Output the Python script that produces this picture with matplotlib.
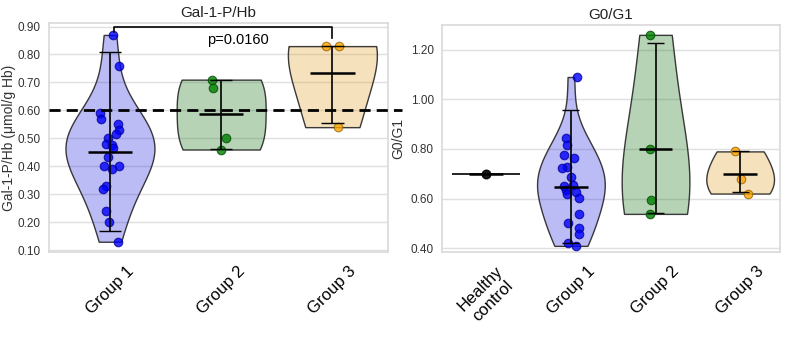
import colorsys
import numpy as np
import matplotlib
matplotlib.use("Agg")
import matplotlib.pyplot as plt
from matplotlib.colors import to_rgba, to_rgb

plt.rcParams['font.family'] = ['Liberation Sans', 'DejaVu Sans']

# ---- Gal-1-P/Hb panel ----
gal_groups = ["Group 1", "Group 2", "Group 3"]
gal_values = [
    [0.87, 0.76, 0.59, 0.57, 0.55, 0.53, 0.515, 0.50, 0.48, 0.476,
     0.464, 0.432, 0.40, 0.40, 0.39, 0.33, 0.32, 0.24, 0.20, 0.13],
    [0.71, 0.68, 0.50, 0.46],
    [0.83, 0.83, 0.54],
]
gal_jitter = [
    [0.03, 0.08, -0.09, -0.08, 0.07, 0.08, 0.05, -0.02, -0.04, 0.02,
     0.03, -0.02, -0.05, 0.08, 0.02, -0.04, -0.06, -0.04, -0.01, 0.07],
    [-0.08, -0.07, 0.04, 0.0],
    [-0.06, 0.06, 0.05],
]
gal_mean = [0.45, 0.5875, 0.733]
gal_lo = [0.17, 0.463, 0.555]
gal_hi = [0.81, 0.708, 0.83]
gal_cutoff = 0.60
p_text = "p=0.0160"

# ---- G0/G1 panel ----
g0_groups = ["Healthy\ncontrol", "Group 1", "Group 2", "Group 3"]
healthy_value = 0.70
g0_values = [
    [1.09, 0.843, 0.816, 0.776, 0.762, 0.729, 0.722, 0.688, 0.650, 0.655,
     0.634, 0.628, 0.617, 0.603, 0.537, 0.500, 0.482, 0.457, 0.421, 0.409],
    [1.26, 0.80, 0.592, 0.538],
    [0.79, 0.68, 0.62],
]
g0_jitter = [
    [0.07, -0.06, -0.05, -0.08, 0.04, -0.05, -0.10, 0.0, -0.08, 0.03,
     -0.06, 0.06, -0.05, 0.09, 0.10, -0.03, 0.10, 0.09, -0.03, 0.06],
    [-0.07, -0.06, -0.05, -0.07],
    [-0.06, 0.01, 0.09],
]
g0_mean = [0.645, 0.80, 0.697]
g0_lo = [0.42, 0.541, 0.625]
g0_hi = [0.955, 1.227, 0.79]

colors = ["blue", "green", "orange"]


def desat(c, prop=0.75):
    h, l, s = colorsys.rgb_to_hls(*to_rgb(c))
    return colorsys.hls_to_rgb(h, l, s * prop)


def darker(c, f=0.6):
    r, g, b, a = to_rgba(c)
    return (r * f, g * f, b * f, 1)


def style_axes(ax):
    ax.set_facecolor("white")
    for s in ax.spines.values():
        s.set_color("#d9d9d9")
        s.set_linewidth(1.2)
    ax.grid(axis="y", color="#e0e0e0", linewidth=1)
    ax.set_axisbelow(True)
    ax.tick_params(axis="both", length=0)
    ax.tick_params(axis="y", labelsize=8.5, colors="#333333", pad=6)
    ax.tick_params(axis="x", labelsize=12, pad=8)


def draw_groups(ax, pos, values, jitter, mean, lo, hi):
    parts = ax.violinplot(values, positions=pos, widths=0.8,
                          showextrema=False,
                          bw_method=lambda k: 1.15 * k.num_dp ** (-0.2))
    for body, c in zip(parts["bodies"], colors):
        body.set_facecolor(to_rgba(desat(c), 0.3))
        body.set_edgecolor((0.15, 0.15, 0.15, 0.9))
        body.set_linewidth(1.0)
        body.set_alpha(None)
    for i, p in enumerate(pos):
        xs = p + np.array(jitter[i])
        ax.scatter(xs, values[i], s=38, color=colors[i], alpha=0.8,
                   edgecolors=[darker(colors[i])], linewidths=0.8, zorder=3)
        ax.vlines(p, lo[i], hi[i], color="black", lw=1.2, zorder=4)
        ax.hlines([lo[i], hi[i]], p - 0.1, p + 0.1, color="black",
                  lw=1.0, zorder=4)
        ax.hlines(mean[i], p - 0.2, p + 0.2, color="black", lw=1.8, zorder=4)


fig = plt.figure(figsize=(7.87, 3.37), dpi=100)

# left panel
ax1 = fig.add_axes([0.062, 0.252, 0.431, 0.680])
style_axes(ax1)
draw_groups(ax1, [0, 1, 2], gal_values, gal_jitter, gal_mean, gal_lo, gal_hi)
ax1.plot([0, 1.04], [gal_cutoff, gal_cutoff], transform=ax1.get_yaxis_transform(),
         color="black", lw=2, ls=(0, (4, 2.2)), clip_on=False, zorder=5)
# significance bracket
ax1.plot([0.04, 0.04, 2.0, 2.0], [0.882, 0.90, 0.90, 0.858], color="black",
         lw=1.2, zorder=5)
ax1.text(1.15, 0.852, p_text, ha="center", va="center", fontsize=10.5)
ax1.set_xlim(-0.55, 2.5)
ax1.set_ylim(0.093, 0.913)
ax1.set_yticks(np.arange(0.1, 0.91, 0.1))
ax1.yaxis.set_major_formatter(matplotlib.ticker.FormatStrFormatter("%.2f"))
ax1.set_xticks([0, 1, 2])
ax1.set_xticklabels(gal_groups, rotation=45, ha="center")
ax1.set_ylabel("Gal-1-P/Hb (\u03bcmol/g Hb)", fontsize=10, color="#333333",
               labelpad=1)
ax1.set_title("Gal-1-P/Hb", fontsize=11, color="#222222", pad=4)

# right panel
ax2 = fig.add_axes([0.562, 0.252, 0.429, 0.674])
style_axes(ax2)
ax2.hlines(healthy_value, -0.4, 0.4, color="black", lw=1.2, zorder=2)
ax2.hlines(healthy_value, -0.2, 0.2, color="black", lw=1.8, zorder=4)
ax2.scatter([0], [healthy_value], s=38, color="black", alpha=0.9, zorder=3)
draw_groups(ax2, [1, 2, 3], g0_values, g0_jitter, g0_mean, g0_lo, g0_hi)
ax2.set_xlim(-0.52, 3.47)
ax2.set_ylim(0.384, 1.30)
ax2.set_yticks(np.arange(0.4, 1.21, 0.2))
ax2.yaxis.set_major_formatter(matplotlib.ticker.FormatStrFormatter("%.2f"))
ax2.set_xticks([0, 1, 2, 3])
ax2.set_xticklabels(g0_groups, rotation=45, ha="center")
ax2.set_ylabel("G0/G1", fontsize=10, color="#333333")
ax2.set_title("G0/G1", fontsize=11, color="#222222", pad=4)

fig.savefig("out.png", dpi=100)
